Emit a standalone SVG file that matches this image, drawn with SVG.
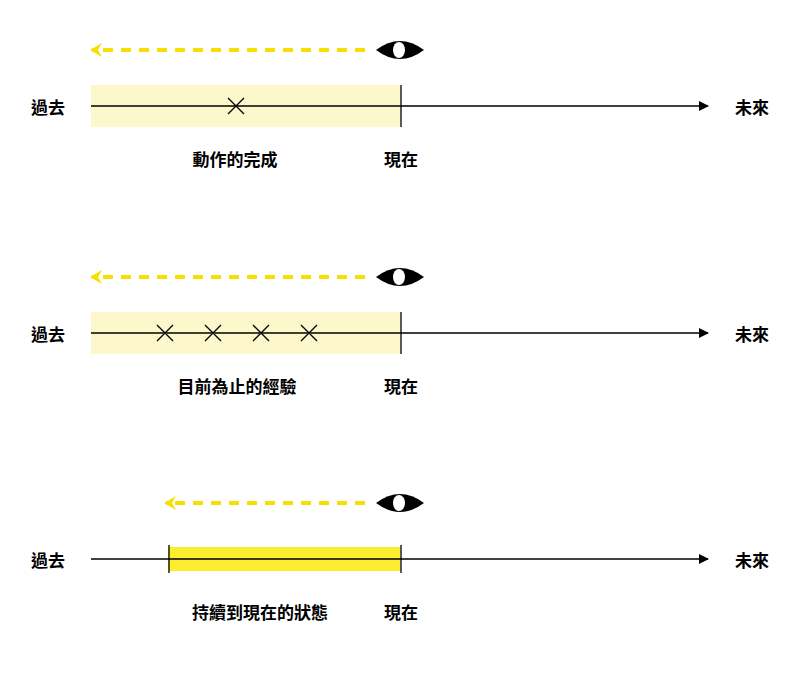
<svg xmlns="http://www.w3.org/2000/svg" width="800" height="680" viewBox="0 0 800 680">
<style>
text{font-family:"Noto Sans CJK TC","Noto Sans CJK SC",sans-serif;font-size:17px;font-weight:bold;fill:#000;text-anchor:middle;dominant-baseline:central}
.ax{stroke:#000;stroke-width:1.3;fill:none}
.dash{stroke:#f5e000;stroke-width:4;stroke-dasharray:10,8;fill:none}
.x{stroke:#000;stroke-width:1.3}
</style>
<defs>
<marker id="ah" markerWidth="10" markerHeight="10" refX="9" refY="5" orient="auto" markerUnits="userSpaceOnUse"><path d="M0,0 L10,5 L0,10 Z" fill="#000"/></marker>
<marker id="yh" markerWidth="12" markerHeight="14" refX="10" refY="7" orient="auto" markerUnits="userSpaceOnUse"><path d="M0,0 L12,7 L0,14 L4,7 Z" fill="#f5e000"/></marker>
<g id="eye"><path d="M-24,0 Q0,-18 24,0 Q0,18 -24,0 Z" fill="#000"/><ellipse cx="-1" cy="0" rx="6" ry="8" fill="#fff"/></g>
</defs>
<g id="p1">
<rect x="91" y="85" width="309" height="42" fill="#fcf8cc"/>
<use href="#eye" x="400" y="50"/>
<text x="48" y="106">過去</text><text x="752" y="106">未來</text>
<text x="235" y="158">動作的完成</text><text x="401" y="158">現在</text>
</g>
<g id="p2">
<rect x="91" y="312" width="309" height="42" fill="#fcf8cc"/>
<use href="#eye" x="400" y="277"/>
<text x="48" y="333">過去</text><text x="752" y="333">未來</text>
<text x="237" y="385">目前為止的經驗</text><text x="401" y="385">現在</text>
</g>
<g id="p3">
<rect x="168" y="547" width="232" height="24" fill="#fcee2f"/>
<use href="#eye" x="400" y="503"/>
<text x="48" y="559">過去</text><text x="752" y="559">未來</text>
<text x="260" y="611">持續到現在的狀態</text><text x="401" y="611">現在</text>
</g>
<g id="connectors">
<path class="dash" d="M365,50 H92" marker-end="url(#yh)"/>
<path class="ax" d="M91,106 H708" marker-end="url(#ah)"/>
<path class="ax" d="M401,85 V127"/>
<path class="x" d="M228,98 l16,16 M244,98 l-16,16"/>
<path class="dash" d="M365,277 H92" marker-end="url(#yh)"/>
<path class="ax" d="M91,333 H708" marker-end="url(#ah)"/>
<path class="ax" d="M401,312 V354"/>
<path class="x" d="M157,325 l16,16 M173,325 l-16,16 M205,325 l16,16 M221,325 l-16,16 M253,325 l16,16 M269,325 l-16,16 M301,325 l16,16 M317,325 l-16,16"/>
<path class="dash" d="M365,503 H166" marker-end="url(#yh)"/>
<path class="ax" d="M91,559 H708" marker-end="url(#ah)"/>
<path class="ax" d="M169,545 V573 M401,545 V573"/>
</g>
</svg>
